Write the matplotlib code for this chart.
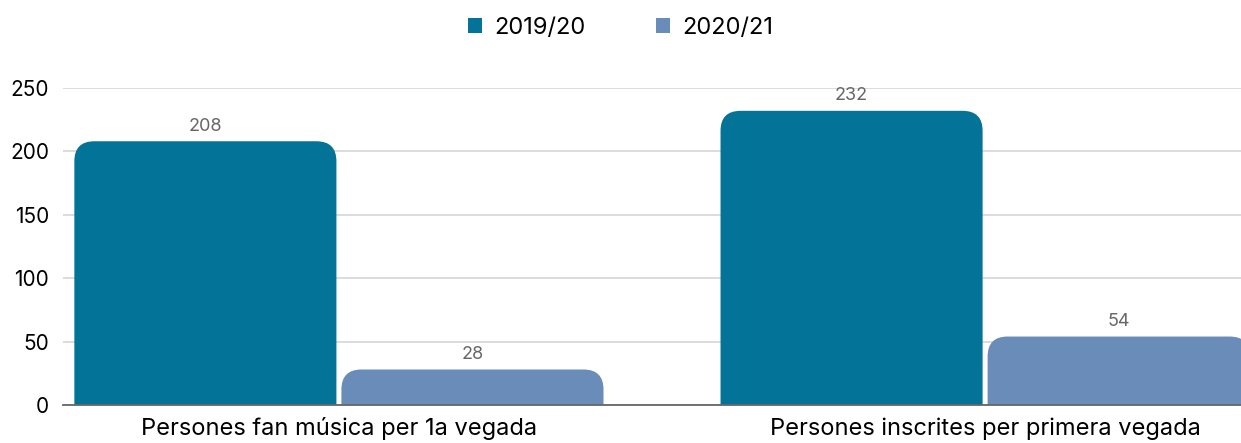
import numpy as np
import matplotlib.pyplot as plt
from matplotlib.patches import FancyBboxPatch, Patch

categories = ["Persones fan música per 1a vegada", "Persones inscrites per primera vegada"]
series = ["2019/20", "2020/21"]
values_1920 = [208, 232]
values_2021 = [28, 54]
colors = ["#037398", "#6a8cb9"]

plt.rcParams['font.family'] = ['Inter', 'DejaVu Sans']

fig = plt.figure(figsize=(12.41, 4.43), dpi=100)
ax = fig.add_axes([63 / 1241, 1 - 405 / 443, 1 - 63 / 1241, (405 - 88) / 443])

x = np.arange(len(categories))
bw = 262 / 646
gap = 5 / 646
xmin, xmax = -0.427, 1.396
ax.set_xlim(xmin, xmax)
ax.set_ylim(0, 250)

# px per data unit, used to keep corner radius round
px_x = 646
px_y = 317 / 250
aspect = px_x / px_y
r = 20 / px_x

for i, (vals, col) in enumerate(zip([values_1920, values_2021], colors)):
    for xi, v in zip(x, vals):
        left = xi - bw - gap / 2 if i == 0 else xi + gap / 2
        bottom = -30
        p = FancyBboxPatch((left, bottom), bw, v - bottom,
                           boxstyle=f"round,pad=0,rounding_size={r}",
                           mutation_aspect=aspect, facecolor=col,
                           edgecolor="none", zorder=3)
        ax.add_patch(p)
        ax.text(left + bw / 2, v + 5, str(v), ha="center", va="bottom",
                fontsize=13, color="#666666", zorder=4)

ax.set_yticks([0, 50, 100, 150, 200, 250])
ax.yaxis.grid(True, color="#d9d9d9", linewidth=1.3, zorder=0)
ax.set_axisbelow(True)
ax.tick_params(axis="y", length=0, labelsize=15, pad=10)
ax.set_xticks(x)
ax.set_xticklabels(categories, fontsize=17)
ax.tick_params(axis="x", length=0, pad=9)
for s in ["top", "right", "left"]:
    ax.spines[s].set_visible(False)
ax.spines["bottom"].set_color("#666666")
ax.spines["bottom"].set_linewidth(1.3)
ax.spines["bottom"].set_zorder(5)

handles = [Patch(facecolor=c, edgecolor="none") for c in colors]
fig.legend(handles, series, loc="center", bbox_to_anchor=(0.5, 1 - 28 / 443),
           ncol=2, frameon=False, fontsize=17, handlelength=0.6, handleheight=0.6,
           handletextpad=0.5, columnspacing=3.0)

fig.savefig("out.png", dpi=100)
